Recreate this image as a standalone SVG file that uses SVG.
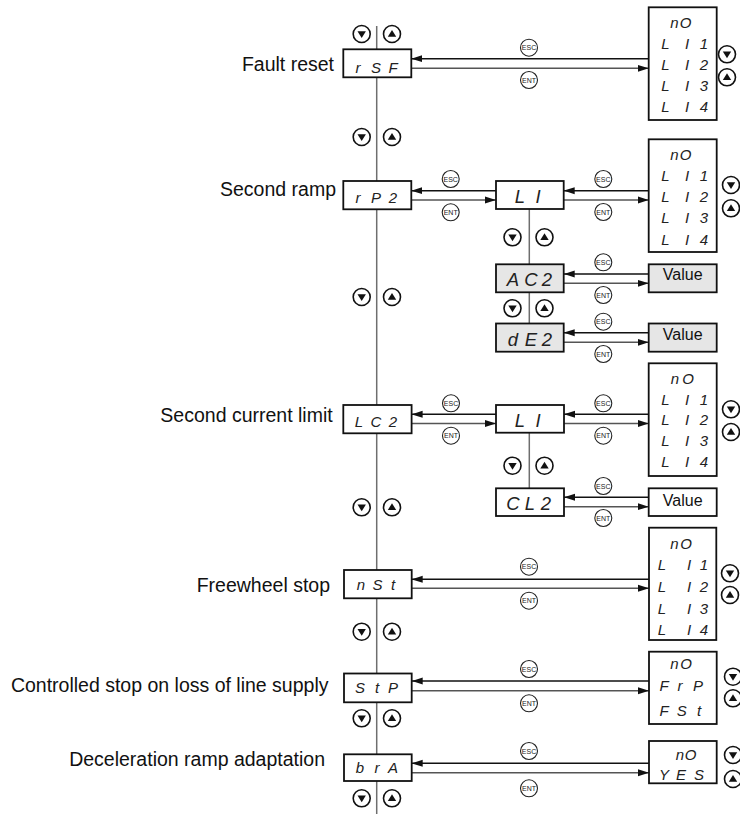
<svg xmlns="http://www.w3.org/2000/svg" xmlns:xlink="http://www.w3.org/1999/xlink" width="740" height="814" viewBox="0 0 740 814">
<style>
.lbl{font-family:"Liberation Sans",Arial,sans-serif;font-size:19.5px;fill:#111;text-anchor:end}
.d1{font-family:"Liberation Sans",Arial,sans-serif;font-style:italic;font-size:15px;fill:#222;text-anchor:middle}
.d2{font-family:"Liberation Sans",Arial,sans-serif;font-style:italic;font-size:18.5px;fill:#222;text-anchor:middle}
.box{fill:#fff;stroke:#111;stroke-width:1.8}
.gbox{fill:#e6e6e6;stroke:#111;stroke-width:1.8}
.vline{stroke:#6e6e6e;stroke-width:1.5;fill:none}
.esc{stroke:#111;stroke-width:1.4;fill:none;marker-end:url(#ah)}
.ent{stroke:#555;stroke-width:1.4;fill:none;marker-end:url(#ah)}
.kc{fill:#fff;stroke:#222;stroke-width:1.1}
.kt{font-family:"Liberation Sans",Arial,sans-serif;font-size:7px;fill:#222;text-anchor:middle}
.val{font-family:"Liberation Sans",Arial,sans-serif;font-size:16px;fill:#111;text-anchor:middle}
.nb{fill:#fff;stroke:#111;stroke-width:1.6}
</style>
<defs>
<marker id="ah" markerUnits="userSpaceOnUse" markerWidth="11" markerHeight="8" refX="11" refY="4" orient="auto"><path d="M0,0.5 L11,4 L0,7.5 z" fill="#111"/></marker>
<g id="dn"><circle class="nb" r="8.5"/><path d="M-4.2,-2.7 L4.2,-2.7 L0,4 z" fill="#111"/></g>
<g id="up"><circle class="nb" r="8.5"/><path d="M-4.2,2.7 L4.2,2.7 L0,-4 z" fill="#111"/></g>
</defs>

<g id="connectors">
<line class="vline" x1="376.7" y1="26" x2="376.7" y2="814"/>
<line class="vline" x1="529.3" y1="209" x2="529.3" y2="323.5"/>
<line class="vline" x1="529.3" y1="432.7" x2="529.3" y2="488.3"/>
<line class="esc" x1="648.7" y1="58.7" x2="411.3" y2="58.7"/>
<line class="ent" x1="411.3" y1="68.3" x2="648.7" y2="68.3"/>
<line class="esc" x1="496" y1="190.7" x2="411.3" y2="190.7"/>
<line class="ent" x1="411.3" y1="200" x2="496" y2="200"/>
<line class="esc" x1="648.7" y1="190.7" x2="563.7" y2="190.7"/>
<line class="ent" x1="563.7" y1="200" x2="648.7" y2="200"/>
<line class="esc" x1="648.7" y1="274" x2="563.7" y2="274"/>
<line class="ent" x1="563.7" y1="283.3" x2="648.7" y2="283.3"/>
<line class="esc" x1="648.7" y1="332.7" x2="563.7" y2="332.7"/>
<line class="ent" x1="563.7" y1="342.3" x2="648.7" y2="342.3"/>
<line class="esc" x1="496" y1="414.3" x2="411.6" y2="414.3"/>
<line class="ent" x1="411.6" y1="423.5" x2="496" y2="423.5"/>
<line class="esc" x1="648.7" y1="414.3" x2="564" y2="414.3"/>
<line class="ent" x1="564" y1="423.5" x2="648.7" y2="423.5"/>
<line class="esc" x1="648.7" y1="497.3" x2="564" y2="497.3"/>
<line class="ent" x1="564" y1="506.7" x2="648.7" y2="506.7"/>
<line class="esc" x1="649" y1="579.3" x2="411.7" y2="579.3"/>
<line class="ent" x1="411.7" y1="588.3" x2="649" y2="588.3"/>
<line class="esc" x1="649" y1="681" x2="411.7" y2="681"/>
<line class="ent" x1="411.7" y1="690.7" x2="649" y2="690.7"/>
<line class="esc" x1="649" y1="763.3" x2="411.7" y2="763.3"/>
<line class="ent" x1="411.7" y1="772.7" x2="649" y2="772.7"/>

<g id="keys">
<circle class="kc" cx="529" cy="47.7" r="8.5"/><text class="kt" x="529" y="50.2">ESC</text>
<circle class="kc" cx="529" cy="80" r="8.5"/><text class="kt" x="529" y="82.5">ENT</text>
<circle class="kc" cx="450.7" cy="179" r="8.5"/><text class="kt" x="450.7" y="181.5">ESC</text>
<circle class="kc" cx="450.7" cy="212.3" r="8.5"/><text class="kt" x="450.7" y="214.8">ENT</text>
<circle class="kc" cx="603.3" cy="179" r="8.5"/><text class="kt" x="603.3" y="181.5">ESC</text>
<circle class="kc" cx="603.3" cy="212" r="8.5"/><text class="kt" x="603.3" y="214.5">ENT</text>
<circle class="kc" cx="603.3" cy="262.3" r="8.5"/><text class="kt" x="603.3" y="264.8">ESC</text>
<circle class="kc" cx="603.3" cy="295" r="8.5"/><text class="kt" x="603.3" y="297.5">ENT</text>
<circle class="kc" cx="603.3" cy="321.7" r="8.5"/><text class="kt" x="603.3" y="324.2">ESC</text>
<circle class="kc" cx="603.3" cy="354" r="8.5"/><text class="kt" x="603.3" y="356.5">ENT</text>
<circle class="kc" cx="451" cy="403.3" r="8.5"/><text class="kt" x="451" y="405.8">ESC</text>
<circle class="kc" cx="451" cy="435.7" r="8.5"/><text class="kt" x="451" y="438.2">ENT</text>
<circle class="kc" cx="603.3" cy="403.3" r="8.5"/><text class="kt" x="603.3" y="405.8">ESC</text>
<circle class="kc" cx="603.3" cy="435.7" r="8.5"/><text class="kt" x="603.3" y="438.2">ENT</text>
<circle class="kc" cx="603.3" cy="486" r="8.5"/><text class="kt" x="603.3" y="488.5">ESC</text>
<circle class="kc" cx="603.3" cy="518" r="8.5"/><text class="kt" x="603.3" y="520.5">ENT</text>
<circle class="kc" cx="529" cy="566.7" r="8.5"/><text class="kt" x="529" y="569.2">ESC</text>
<circle class="kc" cx="529" cy="600.7" r="8.5"/><text class="kt" x="529" y="603.2">ENT</text>
<circle class="kc" cx="529" cy="669" r="8.5"/><text class="kt" x="529" y="671.5">ESC</text>
<circle class="kc" cx="529" cy="703.3" r="8.5"/><text class="kt" x="529" y="705.8">ENT</text>
<circle class="kc" cx="529" cy="751" r="8.5"/><text class="kt" x="529" y="753.5">ESC</text>
<circle class="kc" cx="529" cy="788.3" r="8.5"/><text class="kt" x="529" y="790.8">ENT</text>
</g>

<g id="nav">
<use xlink:href="#dn" href="#dn" x="361.7" y="34"/><use xlink:href="#up" href="#up" x="392" y="34"/>
<use xlink:href="#dn" href="#dn" x="361.7" y="137"/><use xlink:href="#up" href="#up" x="392" y="137"/>
<use xlink:href="#dn" href="#dn" x="361.7" y="297"/><use xlink:href="#up" href="#up" x="392" y="297"/>
<use xlink:href="#dn" href="#dn" x="361.7" y="507.3"/><use xlink:href="#up" href="#up" x="392" y="507.3"/>
<use xlink:href="#dn" href="#dn" x="361.7" y="631.7"/><use xlink:href="#up" href="#up" x="392" y="631.7"/>
<use xlink:href="#dn" href="#dn" x="361.7" y="718.3"/><use xlink:href="#up" href="#up" x="392" y="718.3"/>
<use xlink:href="#dn" href="#dn" x="361.7" y="798.3"/><use xlink:href="#up" href="#up" x="392" y="798.3"/>
<use xlink:href="#dn" href="#dn" x="512.5" y="237.3"/><use xlink:href="#up" href="#up" x="544.5" y="237.3"/>
<use xlink:href="#dn" href="#dn" x="512.5" y="308.3"/><use xlink:href="#up" href="#up" x="544.5" y="308.3"/>
<use xlink:href="#dn" href="#dn" x="512.5" y="465.7"/><use xlink:href="#up" href="#up" x="544.5" y="465.7"/>
<use xlink:href="#dn" href="#dn" x="727" y="54.3"/><use xlink:href="#up" href="#up" x="727" y="77.3"/>
<use xlink:href="#dn" href="#dn" x="731" y="185"/><use xlink:href="#up" href="#up" x="731" y="208.3"/>
<use xlink:href="#dn" href="#dn" x="731" y="409.3"/><use xlink:href="#up" href="#up" x="731" y="432"/>
<use xlink:href="#dn" href="#dn" x="730" y="573.3"/><use xlink:href="#up" href="#up" x="730" y="595"/>
<use xlink:href="#dn" href="#dn" x="733" y="676.7"/><use xlink:href="#up" href="#up" x="733" y="698.3"/>
<use xlink:href="#dn" href="#dn" x="733" y="755"/><use xlink:href="#up" href="#up" x="733" y="779"/>
</g>
</g>

<g id="labels">
<text class="lbl" x="334" y="70.5">Fault reset</text>
<text class="lbl" x="336" y="195.5">Second ramp</text>
<text class="lbl" x="332.7" y="421.7">Second current limit</text>
<text class="lbl" x="330" y="591.7">Freewheel stop</text>
<text class="lbl" x="328.5" y="691.7">Controlled stop on loss of line supply</text>
<text class="lbl" x="325" y="765.5">Deceleration ramp adaptation</text>
</g>

<g id="n-rSF"><rect class="box" x="343.3" y="49.3" width="68" height="28"/><text class="d1" x="358 376 393" y="72.5">rSF</text></g>
<g id="n-rP2"><rect class="box" x="343.3" y="181" width="68" height="28.3"/><text class="d1" x="358 376 393" y="203">rP2</text></g>
<g id="n-LC2"><rect class="box" x="343.3" y="405" width="68.3" height="28.3"/><text class="d1" x="359 376 393" y="426.5">LC2</text></g>
<g id="n-nSt"><rect class="box" x="344" y="570" width="67.7" height="28.3"/><text class="d1" x="361 377.5 393" y="590">nSt</text></g>
<g id="n-StP"><rect class="box" x="344" y="673.5" width="67.7" height="28.8"/><text class="d1" x="360 377 393" y="692.5">StP</text></g>
<g id="n-brA"><rect class="box" x="344" y="754.3" width="67.7" height="26.7"/><text class="d1" x="360 377 393" y="773">brA</text></g>

<g id="n-LI-a"><rect class="box" x="496" y="181" width="67.7" height="28"/><text class="d2" x="520 538" y="203">LI</text></g>
<g id="n-AC2"><rect class="gbox" x="496" y="264.3" width="67.7" height="28"/><text class="d2" x="513 531 547" y="285.5">AC2</text></g>
<g id="n-dE2"><rect class="gbox" x="496" y="323.5" width="67.7" height="28.2"/><text class="d2" x="513 531 547" y="345.5">dE2</text></g>
<g id="n-LI-b"><rect class="box" x="496" y="405" width="68" height="27.7"/><text class="d2" x="520 538" y="426.5">LI</text></g>
<g id="n-CL2"><rect class="box" x="496" y="488.3" width="68" height="27.7"/><text class="d2" x="513 530 546" y="510">CL2</text></g>

<g id="n-val-AC2"><rect class="gbox" x="648.7" y="264.3" width="68" height="28"/><text class="val" x="682.7" y="279.5">Value</text></g>
<g id="n-val-dE2"><rect class="gbox" x="648.7" y="323.5" width="68" height="28.2"/><text class="val" x="682.7" y="340">Value</text></g>
<g id="n-val-CL2"><rect class="box" x="648.7" y="488.3" width="68" height="27.7"/><text class="val" x="682.7" y="506">Value</text></g>

<g id="n-list-rSF"><rect class="box" x="648.7" y="7.3" width="68" height="112.7"/>
<text class="d1" x="674.5 685.5" y="27.5">nO</text>
<text class="d1" x="665.5 687 704" y="48.6">LI1</text>
<text class="d1" x="665.5 687 704" y="69.7">LI2</text>
<text class="d1" x="665.5 687 704" y="90.8">LI3</text>
<text class="d1" x="665.5 687 704" y="111.9">LI4</text></g>
<g id="n-list-rP2"><rect class="box" x="648.7" y="139.3" width="68" height="112.7"/>
<text class="d1" x="674.5 685.5" y="159.5">nO</text>
<text class="d1" x="665.5 687 704" y="180.8">LI1</text>
<text class="d1" x="665.5 687 704" y="202.1">LI2</text>
<text class="d1" x="665.5 687 704" y="223.4">LI3</text>
<text class="d1" x="665.5 687 704" y="244.7">LI4</text></g>
<g id="n-list-LC2"><rect class="box" x="648.7" y="363.3" width="68" height="112.7"/>
<text class="d1" x="675 688" y="383.5">nO</text>
<text class="d1" x="665.5 687 704" y="404.5">LI1</text>
<text class="d1" x="665.5 687 704" y="425.3">LI2</text>
<text class="d1" x="665.5 687 704" y="446.2">LI3</text>
<text class="d1" x="665.5 687 704" y="467">LI4</text></g>
<g id="n-list-nSt"><rect class="box" x="649" y="527.7" width="67.3" height="112.3"/>
<text class="d1" x="674.5 686" y="549">nO</text>
<text class="d1" x="662 689 704" y="570.3">LI1</text>
<text class="d1" x="662 689 704" y="592">LI2</text>
<text class="d1" x="662 689 704" y="613.6">LI3</text>
<text class="d1" x="662 689 704" y="634.6">LI4</text></g>
<g id="n-list-StP"><rect class="box" x="649" y="651.7" width="67.7" height="72.3"/>
<text class="d1" x="674.5 686" y="669">nO</text>
<text class="d1" x="664 680 698" y="690.7">FrP</text>
<text class="d1" x="664 681.7 699" y="715.7">FSt</text></g>
<g id="n-list-brA"><rect class="box" x="649" y="741" width="67.7" height="42.3"/>
<text class="d1" x="680 690.5" y="760">nO</text>
<text class="d1" x="664 681 699" y="780">YES</text></g>
</svg>
